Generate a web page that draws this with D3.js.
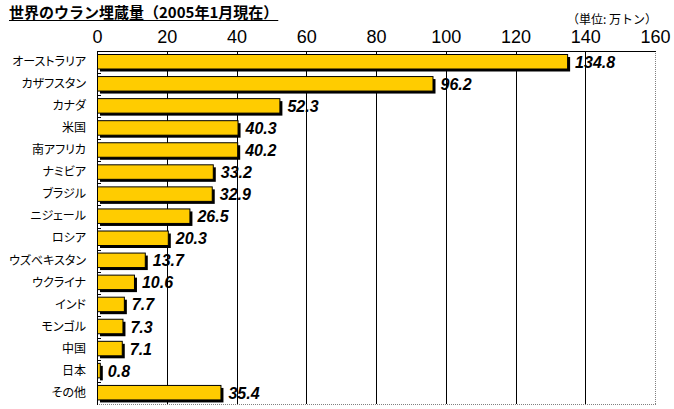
<!DOCTYPE html>
<html><head><meta charset="utf-8">
<script src="https://cdn.jsdelivr.net/npm/d3@7"></script>
<style>
html,body{margin:0;padding:0;background:#fff;}
svg{display:block;font-family:"Liberation Sans","Noto Sans CJK JP",sans-serif;}
</style></head><body>
<svg id="c" width="674" height="409"></svg>
<script>
const categories = ["オーストラリア","カザフスタン","カナダ","米国","南アフリカ","ナミビア","ブラジル","ニジェール","ロシア","ウズベキスタン","ウクライナ","インド","モンゴル","中国","日本","その他"];
const values = [134.8,96.2,52.3,40.3,40.2,33.2,32.9,26.5,20.3,13.7,10.6,7.7,7.3,7.1,0.8,35.4];
const tickValues = [0,20,40,60,80,100,120,140,160];
const title = "世界のウラン埋蔵量（2005年1月現在）";
const unitLabel = "（単位: 万トン）";

const svg = d3.select("#c");
const L=97, R=655, T=51, B=404;
const x = d3.scaleLinear().domain([0,160]).range([L,R]);
const y = d3.scaleBand().domain(categories).range([T,B]).padding(0);

// title
const tt = svg.append("text").attr("x",9).attr("y",18).attr("font-size",15).attr("font-weight","bold")
  .attr("font-family","'Noto Sans CJK JP',sans-serif").text(title);
const tw = tt.node().getComputedTextLength();
svg.append("line").attr("x1",9).attr("x2",9+tw).attr("y1",20.5).attr("y2",20.5).attr("stroke","#000").attr("stroke-width",1.2);

svg.append("text").attr("x",657).attr("y",24).attr("text-anchor","end").attr("font-size",12)
  .attr("font-family","'Noto Sans CJK JP',sans-serif").text(unitLabel);

// gridlines
svg.append("g").selectAll("line").data(tickValues.filter(d=>d>0&&d<160)).join("line")
  .attr("x1",d=>Math.round(x(d))+0.5).attr("x2",d=>Math.round(x(d))+0.5).attr("y1",T).attr("y2",B)
  .attr("stroke","#000").attr("stroke-width",1);

// right & bottom dotted borders
svg.append("line").attr("x1",R+0.5).attr("x2",R+0.5).attr("y1",T).attr("y2",B+0.5).attr("stroke","#808080").attr("stroke-dasharray","1,1");
svg.append("line").attr("x1",L).attr("x2",R+1).attr("y1",B+0.5).attr("y2",B+0.5).attr("stroke","#808080").attr("stroke-dasharray","1,1");

// bars
const bh = 14.5;
const g = svg.append("g");
g.selectAll("rect.sh").data(values).join("rect").attr("class","sh")
  .attr("x",L+3).attr("y",(d,i)=>y(categories[i])+6)
  .attr("width",d=>x(d)-L).attr("height",bh).attr("fill","#000");
g.selectAll("rect.bar").data(values).join("rect").attr("class","bar")
  .attr("x",L+0.5).attr("y",(d,i)=>y(categories[i])+3.5)
  .attr("width",d=>x(d)-L).attr("height",bh).attr("fill","#FFCC00").attr("stroke","#000").attr("stroke-width",1);

// value labels
g.selectAll("text.v").data(values).join("text").attr("class","v")
  .attr("x",d=>x(d)+8).attr("y",(d,i)=>y(categories[i])+3.5+bh/2+6)
  .attr("font-size",16).attr("font-weight","bold").attr("font-style","italic")
  .text(d=>d.toFixed(1));

// top & left border
svg.append("line").attr("x1",L).attr("x2",R+1).attr("y1",T+0.5).attr("y2",T+0.5).attr("stroke","#000");
svg.append("line").attr("x1",L+0.5).attr("x2",L+0.5).attr("y1",T).attr("y2",B+1).attr("stroke","#000");

// top ticks
const axTop = d3.axisTop(x).tickValues(tickValues).tickSize(0).tickPadding(0).tickFormat(d3.format("d"));
const ag = svg.append("g").attr("transform",`translate(0,${T})`).call(axTop);
ag.select(".domain").remove();
ag.selectAll("text").attr("y",-8).attr("dy",0).attr("font-size",18).attr("font-family","'Liberation Sans',sans-serif").attr("fill","#000");
svg.append("g").selectAll("line").data(tickValues.filter(d=>d>0&&d<160)).join("line")
  .attr("x1",d=>Math.round(x(d))+0.5).attr("x2",d=>Math.round(x(d))+0.5).attr("y1",T).attr("y2",T+4).attr("stroke","#000");

// left axis
const axLeft = d3.axisLeft(y).tickSize(0).tickPadding(0);
const lg = svg.append("g").attr("transform",`translate(${L},0)`).call(axLeft);
lg.select(".domain").remove();
lg.selectAll("text").attr("x",-11).attr("dy","0.35em").attr("font-size",12)
  .attr("font-family","'Noto Sans CJK JP',sans-serif").style("font-feature-settings","'palt'").attr("fill","#000");
lg.selectAll(".tick").attr("transform",d=>`translate(0,${y(d)+3.5+bh/2})`);
// minor ticks at band boundaries
svg.append("g").selectAll("line").data(categories.slice(1)).join("line")
  .attr("x1",L).attr("x2",L+4).attr("y1",d=>Math.round(y(d))+0.5).attr("y2",d=>Math.round(y(d))+0.5).attr("stroke","#000");
</script></body></html>
